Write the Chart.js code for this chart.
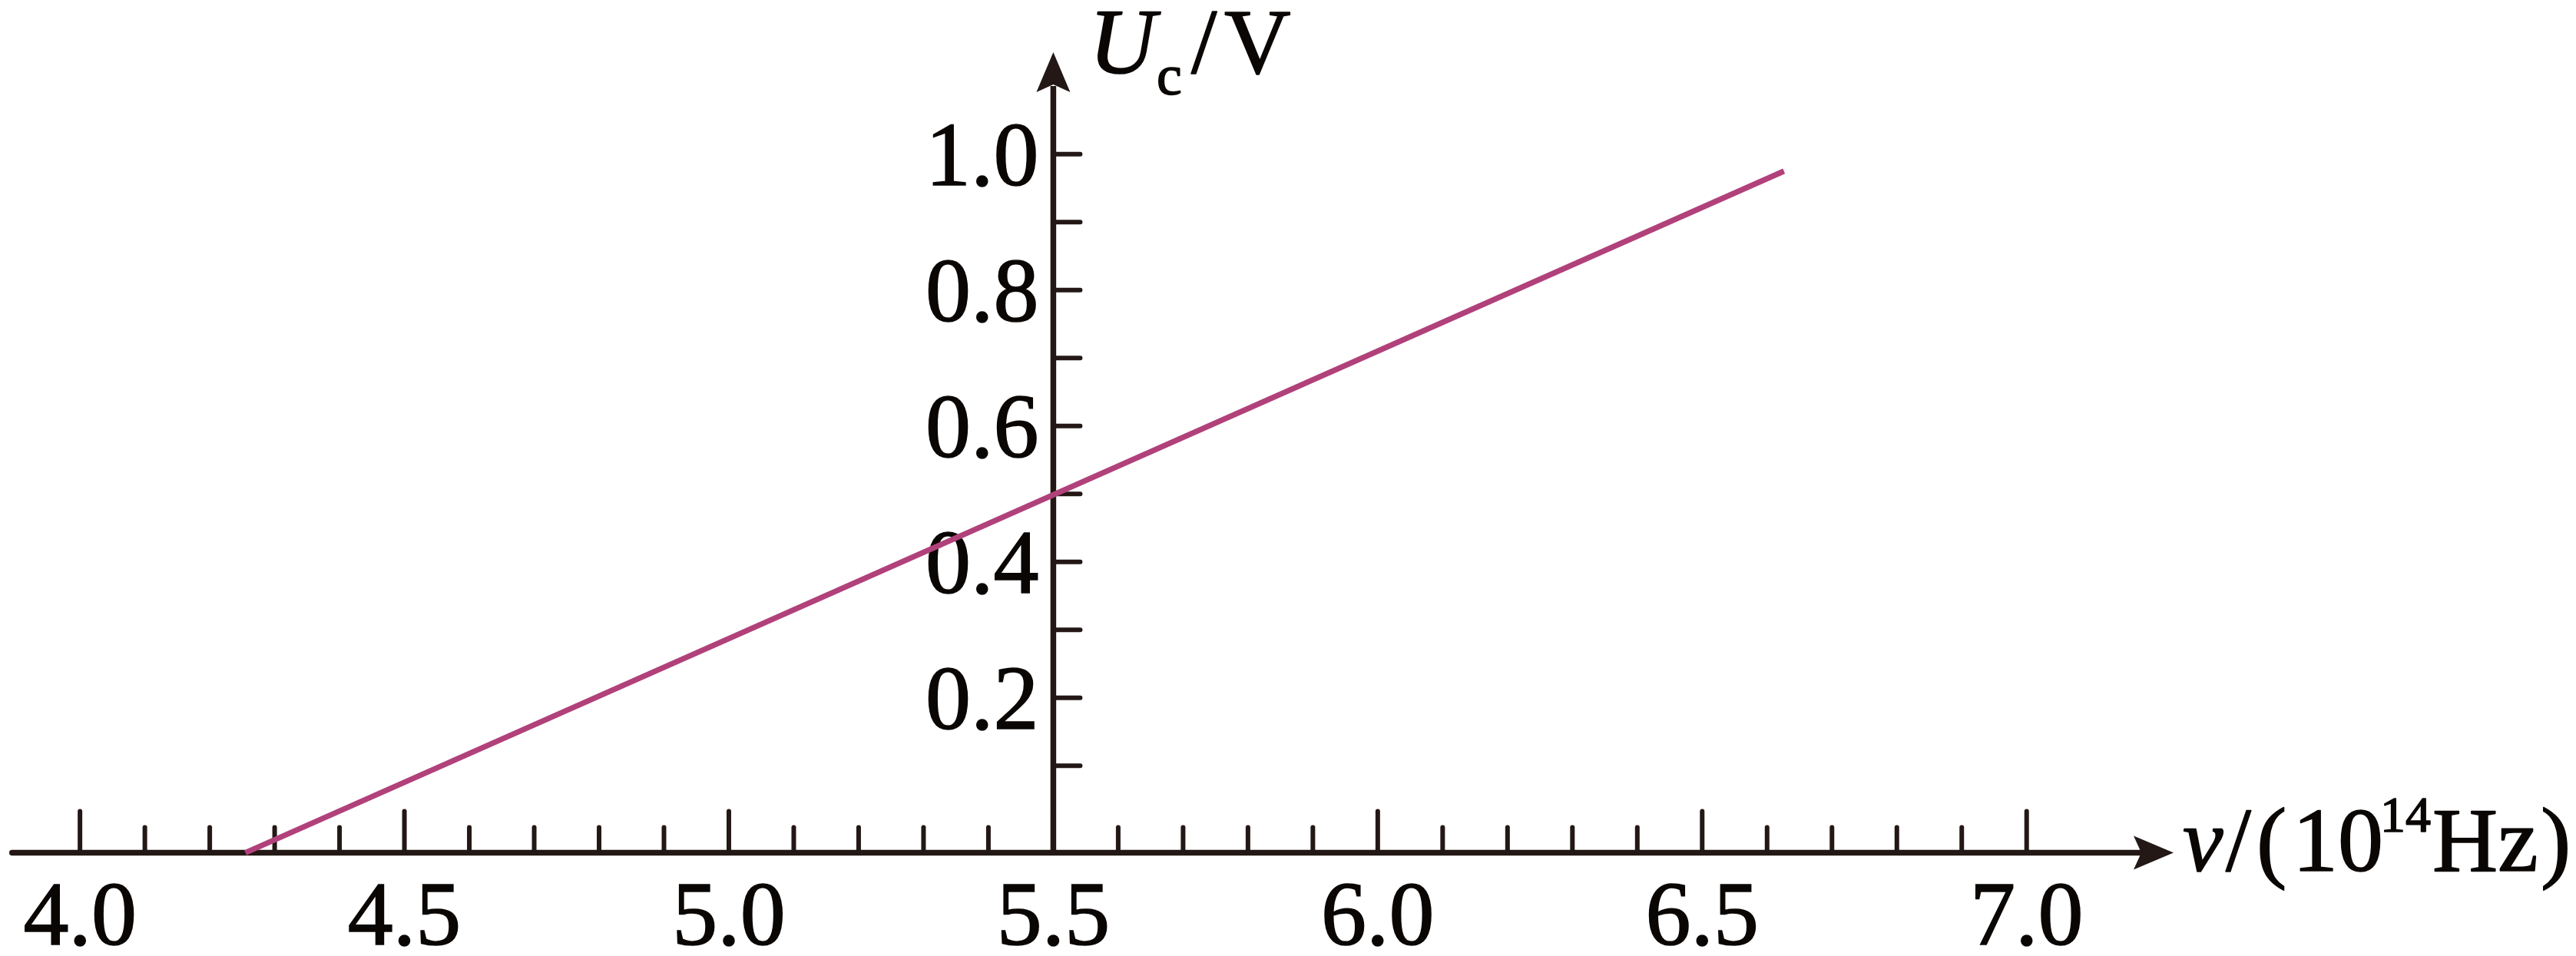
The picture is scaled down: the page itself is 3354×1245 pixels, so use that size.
<!DOCTYPE html>
<html><head><meta charset="utf-8">
<script src="https://cdn.jsdelivr.net/npm/chart.js@4/dist/chart.umd.min.js"></script>
<style>html,body{margin:0;padding:0;background:#fff;overflow:hidden}</style>
</head><body>
<canvas id="c" width="3354" height="1245" style="display:block;width:3354px;height:1245px"></canvas>
<script>
// ---- data ----
const lineNu = [4.255, 6.626];          // ν / 10^14 Hz
const lineUc = [-0.028, 0.975];         // Uc / V (line starts on the drawn ν axis)
const xTickValues = [4.0,4.1,4.2,4.3,4.4,4.5,4.6,4.7,4.8,4.9,5.0,5.1,5.2,5.3,5.4,5.5,5.6,5.7,5.8,5.9,6.0,6.1,6.2,6.3,6.4,6.5,6.6,6.7,6.8,6.9,7.0];
const xLabelValues = [4.0,4.5,5.0,5.5,6.0,6.5,7.0];
const yTickValues = [0.1,0.2,0.3,0.4,0.5,0.6,0.7,0.8,0.9,1.0];
const yLabelValues = [0.2,0.4,0.6,0.8,1.0];
const xRange = [3.8954, 7.2264];
const yRange = [-0.028, 1.15];
const yAxisAtNu = 5.5;

// ---- style ----
const AXIS = '#231815';
const TEXT = '#0a0604';
const LINE = '#b1417a';
const SERIF = '"Liberation Serif", "Times New Roman", serif';
const PAD = {left: 12, right: 524, top: 68, bottom: 134.5};
const PLOT_W = 3354 - PAD.left - PAD.right;
const yLabelGapNu = 19 * (xRange[1] - xRange[0]) / PLOT_W;
const STROKE = 1.6;

const isIn = (arr, v) => arr.some(a => Math.abs(a - v) < 1e-6);

const axesPlugin = {
  id: 'axesPlugin',
  beforeDatasetsDraw(chart) {
    const {ctx} = chart;
    const xs = chart.scales.x, ys = chart.scales.y;
    const y0 = ys.getPixelForValue(yRange[0]);
    const x0 = xs.getPixelForValue(yAxisAtNu);
    const yt = ys.getPixelForValue(yRange[1]);
    const xr = xs.getPixelForValue(xRange[1]);
    ctx.save();
    ctx.strokeStyle = AXIS; ctx.fillStyle = AXIS;
    ctx.lineWidth = 7.5; ctx.lineCap = 'round';
    ctx.beginPath(); ctx.moveTo(xs.getPixelForValue(xRange[0]), y0); ctx.lineTo(xr - 40, y0); ctx.stroke();
    ctx.lineCap = 'butt';
    ctx.beginPath(); ctx.moveTo(x0, y0 + 3.5); ctx.lineTo(x0, yt + 44); ctx.stroke();
    ctx.beginPath();
    ctx.moveTo(xr, y0); ctx.lineTo(xr - 52, y0 - 22); ctx.lineTo(xr - 42, y0); ctx.lineTo(xr - 52, y0 + 22); ctx.closePath(); ctx.fill();
    ctx.beginPath();
    ctx.moveTo(x0, yt); ctx.lineTo(x0 - 22, yt + 52); ctx.lineTo(x0, yt + 42); ctx.lineTo(x0 + 22, yt + 52); ctx.closePath(); ctx.fill();
    ctx.lineWidth = 6; ctx.lineCap = 'round';
    xs.ticks.forEach(t => {
      const px = xs.getPixelForValue(t.value);
      const len = isIn(xLabelValues, t.value) ? 54 : 33;
      ctx.beginPath(); ctx.moveTo(px, y0); ctx.lineTo(px, y0 - len); ctx.stroke();
    });
    ys.ticks.forEach(t => {
      const py = ys.getPixelForValue(t.value);
      ctx.beginPath(); ctx.moveTo(x0, py); ctx.lineTo(x0 + 35, py); ctx.stroke();
    });
    ctx.restore();
  },
  afterDraw(chart) {
    const {ctx} = chart;
    ctx.save();
    ctx.fillStyle = TEXT; ctx.strokeStyle = TEXT; ctx.lineWidth = STROKE; ctx.lineJoin = 'round';
    ctx.textBaseline = 'alphabetic'; ctx.textAlign = 'left';
    const put = (txt, x, y, size, italic) => {
      ctx.font = (italic ? 'italic ' : '') + size + 'px ' + SERIF;
      ctx.strokeText(txt, x, y);
      ctx.fillText(txt, x, y);
    };
    // y-axis title  U_c / V
    put('U', 1418, 95, 120, true);
    put('c', 1506, 123, 74, false);
    put('/', 1551, 95, 120, false);
    put('V', 1594, 95, 120, false);
    // x-axis title  ν/(10^14 Hz)
    put('\u03BD', 2842, 1134, 118, true);
    put('/', 2898, 1134, 118, false);
    put('(', 2938, 1134, 118, false);
    put('10', 2985, 1134, 118, false);
    put('14', 3099, 1083, 66, false);
    put('Hz', 3167, 1134, 118, false);
    put(')', 3308, 1134, 118, false);
    ctx.restore();
  }
};

new Chart(document.getElementById('c').getContext('2d'), {
  type: 'scatter',
  data: {
    datasets: [{
      data: lineNu.map((x, i) => ({x: x, y: lineUc[i]})),
      showLine: true, borderColor: LINE, backgroundColor: LINE,
      borderWidth: 7.2, pointRadius: 0, borderCapStyle: 'butt', fill: false, clip: false
    }]
  },
  options: {
    responsive: false, animation: false, devicePixelRatio: 1,
    layout: {autoPadding: false, padding: PAD},
    plugins: {legend: {display: false}, tooltip: {enabled: false}},
    scales: {
      x: {
        type: 'linear', min: xRange[0], max: xRange[1], position: {y: yRange[0]},
        grid: {display: false, drawTicks: false, tickLength: 0}, border: {display: false},
        afterBuildTicks: s => { s.ticks = xTickValues.map(v => ({value: v})); },
        ticks: {
          autoSkip: false, maxRotation: 0, minRotation: 0, padding: 30, color: TEXT,
          textStrokeColor: TEXT, textStrokeWidth: STROKE,
          font: {family: SERIF, size: 118, lineHeight: 1},
          callback: v => isIn(xLabelValues, v) ? v.toFixed(1) : ''
        }
      },
      y: {
        type: 'linear', min: yRange[0], max: yRange[1], position: {x: yAxisAtNu - yLabelGapNu},
        grid: {display: false, drawTicks: false, tickLength: 0}, border: {display: false},
        afterBuildTicks: s => { s.ticks = yTickValues.map(v => ({value: v})); },
        ticks: {
          autoSkip: false, padding: 0, labelOffset: 9, color: TEXT,
          textStrokeColor: TEXT, textStrokeWidth: STROKE,
          font: {family: SERIF, size: 118, lineHeight: 1},
          callback: v => isIn(yLabelValues, v) ? v.toFixed(1) : ''
        }
      }
    }
  },
  plugins: [axesPlugin]
});
</script>
</body></html>
